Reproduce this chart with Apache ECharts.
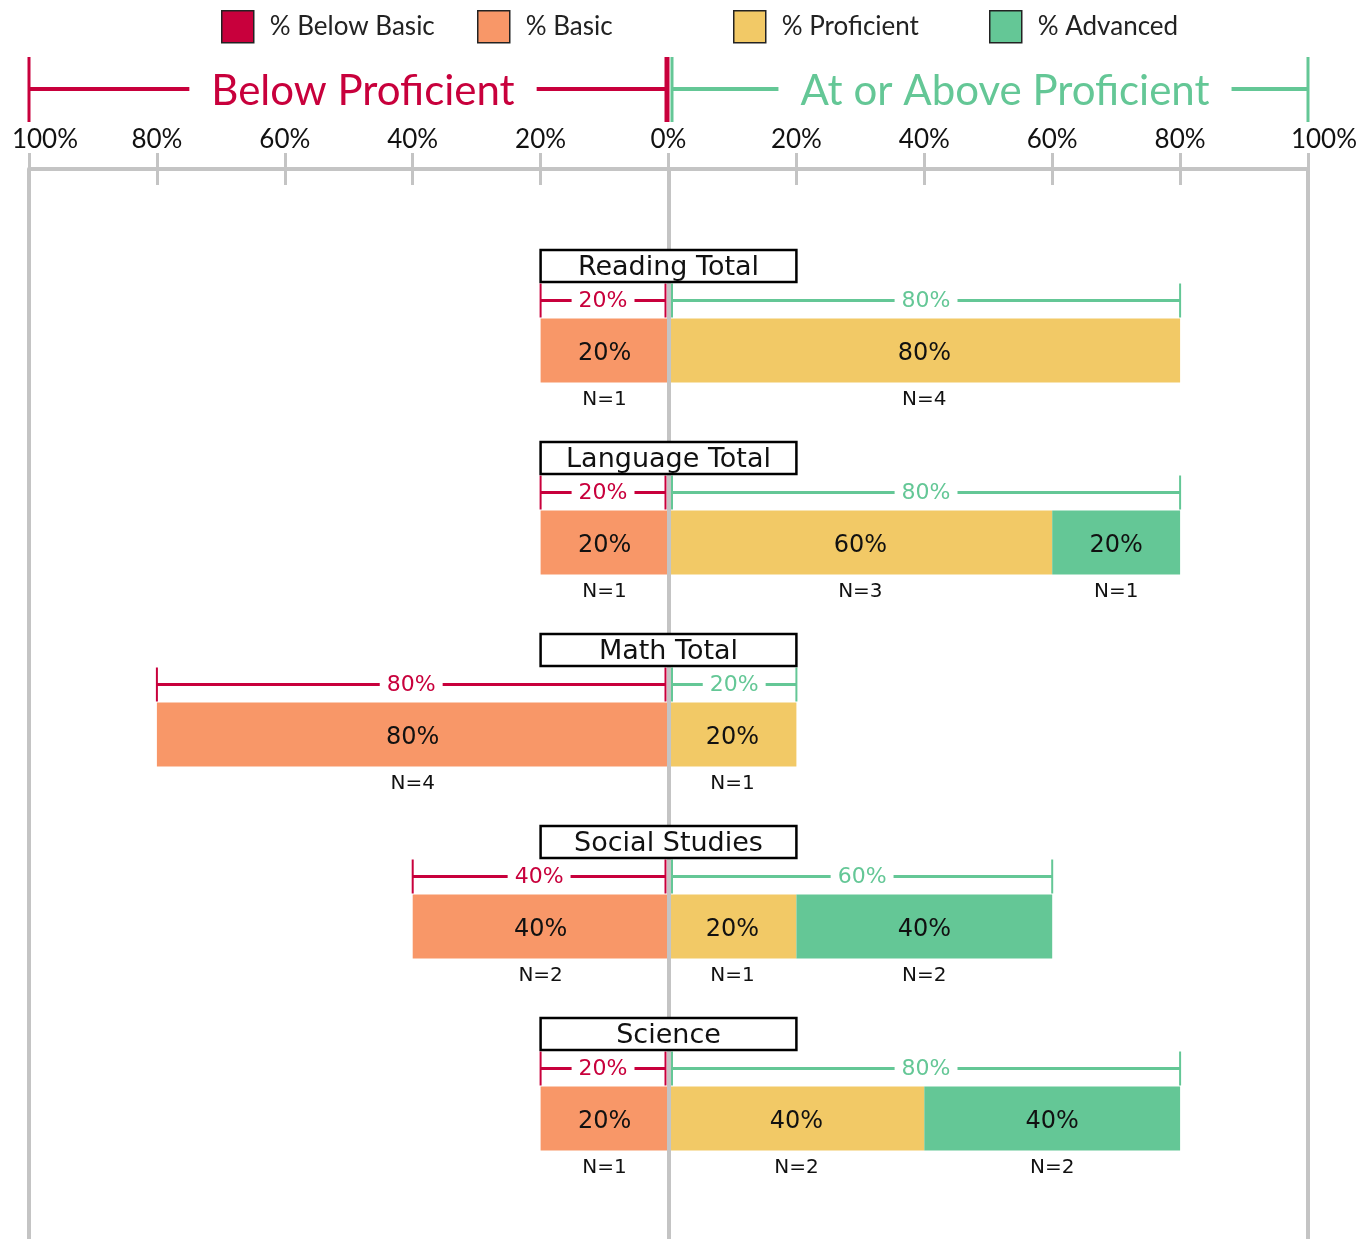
<!DOCTYPE html>
<html>
<head>
<meta charset="utf-8">
<script src="https://cdn.jsdelivr.net/npm/echarts@6/dist/echarts.min.js"></script>
<style>
  html, body { margin: 0; padding: 0; background: #ffffff; }
  #chart { width: 1371px; height: 1239px; }
</style>
</head>
<body>
<div id="chart"></div>
<script>
// ---- data ----
const subjects = ['Reading Total', 'Language Total', 'Math Total', 'Social Studies', 'Science'];
const levelNames = ['% Below Basic', '% Basic', '% Proficient', '% Advanced'];

const belowBasicPct = [0, 0, 0, 0, 0];
const basicPct      = [20, 20, 80, 40, 20];
const proficientPct = [80, 60, 20, 20, 40];
const advancedPct   = [0, 20, 0, 40, 40];

const belowBasicN = [0, 0, 0, 0, 0];
const basicN      = [1, 1, 4, 2, 1];
const proficientN = [4, 3, 1, 1, 2];
const advancedN   = [0, 1, 0, 2, 2];

const tickValues = [-100, -80, -60, -40, -20, 0, 20, 40, 60, 80, 100];
const tickLabels = ['100%', '80%', '60%', '40%', '20%', '0%', '20%', '40%', '60%', '80%', '100%'];

const headerSpans = [
  { from: -100, to: 0, text: 'Below Proficient' },
  { from: 0, to: 100, text: 'At or Above Proficient' }
];

// ---- styling ----
const RED = '#C8003C';
const ORANGE = '#F89768';
const YELLOW = '#F2C966';
const GREEN = '#64C796';
const GRID_GREY = '#C4C4C4';
const INK = '#111111';
const FONT = 'Lato, "Noto Sans", sans-serif';
const WIDE_FONT = '"DejaVu Sans", Verdana, sans-serif';
const levelColors = [RED, ORANGE, YELLOW, GREEN];

// row axis: one unit per subject, rows centred on integers
const ROW_MIN = -0.9453;
const ROW_MAX = 4.6276;

// stacked segments: negative side grows left from 0, positive side grows right
function segmentData(values, counts, inner, sign) {
  return values.map((v, i) => {
    const start = sign * inner[i];
    const end = sign * (inner[i] + v);
    return [i, start, end, v, counts[i]];
  });
}
const zeros = subjects.map(() => 0);
const segmentSets = [
  segmentData(belowBasicPct, belowBasicN, basicPct, -1),
  segmentData(basicPct, basicN, zeros, -1),
  segmentData(proficientPct, proficientN, zeros, 1),
  segmentData(advancedPct, advancedN, proficientPct, 1)
];

function makeSegmentRenderer(color) {
  return function (params, api) {
    const row = api.value(0);
    const a = api.value(1);
    const b = api.value(2);
    const pct = api.value(3);
    const n = api.value(4);
    if (!pct) return null;
    const p0 = api.coord([a, row]);
    const p1 = api.coord([b, row]);
    const band = api.size([0, 1])[1];
    const h = band / 3;
    const x = Math.min(p0[0], p1[0]);
    const w = Math.abs(p1[0] - p0[0]);
    const cy = p0[1];
    return {
      type: 'group',
      children: [
        { type: 'rect', shape: { x: x, y: cy - h / 2, width: w, height: h }, style: { fill: color } },
        { type: 'text', style: { text: pct + '%', x: x + w / 2, y: cy + 3, align: 'center', verticalAlign: 'middle',
            fill: INK, font: '24px ' + WIDE_FONT } },
        { type: 'text', style: { text: 'N=' + n, x: x + w / 2, y: cy + h / 2 + 17, align: 'center', verticalAlign: 'middle',
            fill: INK, font: '20px ' + WIDE_FONT } }
      ]
    };
  };
}

const segmentSeries = levelNames.map((name, k) => ({
  type: 'custom',
  name: name,
  xAxisIndex: 0,
  yAxisIndex: 0,
  z: 2,
  itemStyle: { color: levelColors[k] },
  renderItem: makeSegmentRenderer(levelColors[k]),
  encode: { x: [1, 2], y: 0 },
  data: segmentSets[k]
}));

// brackets above each bar: totals below / at-or-above proficient
const bracketData = subjects.map((s, i) => [i, belowBasicPct[i] + basicPct[i], proficientPct[i] + advancedPct[i]]);

function bracket(children, xa, xb, y, color, label) {
  children.push({ type: 'line', shape: { x1: xa, y1: y, x2: xb, y2: y }, style: { stroke: color, lineWidth: 3 } });
  children.push({ type: 'line', shape: { x1: xa, y1: y - 17, x2: xa, y2: y + 17 }, style: { stroke: color, lineWidth: 2 } });
  children.push({ type: 'line', shape: { x1: xb, y1: y - 17, x2: xb, y2: y + 17 }, style: { stroke: color, lineWidth: 2 } });
  children.push({ type: 'text', style: { text: label, x: (xa + xb) / 2, y: y + 1, align: 'center', verticalAlign: 'middle',
      fill: color, font: '22px ' + WIDE_FONT, backgroundColor: '#ffffff', padding: [2, 7] } });
}

const bracketSeries = {
  type: 'custom',
  name: 'brackets',
  z: 2,
  silent: true,
  renderItem: function (params, api) {
    const row = api.value(0);
    const below = api.value(1);
    const above = api.value(2);
    const zero = api.coord([0, row]);
    const band = api.size([0, 1])[1];
    const y = zero[1] - band * 50 / 192;
    const children = [];
    if (below > 0) {
      const xl = api.coord([-below, row])[0];
      bracket(children, xl, zero[0] - 3, y, RED, below + '%');
    }
    if (above > 0) {
      const xr = api.coord([above, row])[0];
      bracket(children, zero[0] + 3.5, xr, y, GREEN, above + '%');
    }
    return { type: 'group', children: children };
  },
  encode: { x: [1, 2], y: 0 },
  data: bracketData
};

// subject title boxes
const titleSeries = {
  type: 'custom',
  name: 'titles',
  z: 5,
  silent: true,
  renderItem: function (params, api) {
    const row = api.value(0);
    const c = api.coord([0, row]);
    const band = api.size([0, 1])[1];
    const cy = c[1] - band * 84.5 / 192;
    const halfW = api.size([20, 0])[0];
    return {
      type: 'group',
      children: [
        { type: 'rect', shape: { x: c[0] - halfW, y: cy - 16, width: halfW * 2, height: 32 },
          style: { fill: '#ffffff', stroke: '#000000', lineWidth: 2.5 } },
        { type: 'text', style: { text: subjects[row], x: c[0], y: cy + 2, align: 'center', verticalAlign: 'middle',
            fill: INK, font: '27px ' + WIDE_FONT } }
      ]
    };
  },
  encode: { x: 1, y: 0 },
  data: subjects.map((s, i) => [i, 0])
};

// header brackets over each half of the scale
const headerSeries = {
  type: 'custom',
  name: 'header',
  z: 5,
  silent: true,
  clip: false,
  renderItem: function (params, api) {
    const span = headerSpans[params.dataIndex];
    const a = api.coord([span.from, ROW_MIN]);
    const b = api.coord([span.to, ROW_MIN]);
    const top = a[1];
    const y = top - 80;
    const isLeft = span.to <= 0;
    const color = isLeft ? RED : GREEN;
    const xa = isLeft ? a[0] : a[0] + 3.5;
    const xb = isLeft ? b[0] - 1.5 : b[0];
    const children = [
      { type: 'line', shape: { x1: xa, y1: y, x2: xb, y2: y }, style: { stroke: color, lineWidth: 4 } },
      { type: 'line', shape: { x1: xa, y1: top - 112, x2: xa, y2: top - 47 },
        style: { stroke: color, lineWidth: 3 } },
      { type: 'line', shape: { x1: xb, y1: top - 112, x2: xb, y2: top - 47 },
        style: { stroke: color, lineWidth: isLeft ? 5 : 3 } },
      { type: 'text', style: { text: span.text, x: (xa + xb) / 2 + 15, y: y + 2, align: 'center', verticalAlign: 'middle',
          fill: color, font: '42px ' + FONT, backgroundColor: '#ffffff', padding: [0, 22] } }
    ];
    return { type: 'group', children: children };
  },
  encode: { x: [0, 1] },
  data: headerSpans.map(s => [s.from, s.to])
};

function tickLabel(v) {
  const idx = tickValues.indexOf(Math.round(v));
  if (idx < 0) return '';
  const t = tickLabels[idx];
  return Math.abs(v) === 100 ? '{edge|' + t + '}' : t;
}

// one legend block per level, evenly spaced
const legends = levelNames.map((name, k) => ({
  data: [name],
  left: 221 + 256 * k,
  top: 10,
  padding: 0,
  icon: 'rect',
  itemWidth: 32,
  itemHeight: 32,
  selectedMode: false,
  itemStyle: { borderColor: '#222222', borderWidth: 1.5 },
  textStyle: { fontFamily: FONT, fontSize: 26, color: '#222222', padding: [0, 0, 0, 11] }
}));

const baseAxis = { type: 'value', position: 'top', min: -100, max: 100 };

const option = {
  animation: false,
  backgroundColor: '#ffffff',
  legend: legends,
  grid: { left: 29, right: 63, top: 169, bottom: 0, containLabel: false },
  xAxis: [
    Object.assign({}, baseAxis, {
      interval: 20,
      axisLine: { show: true, onZero: false, lineStyle: { color: GRID_GREY, width: 4 } },
      axisTick: { show: true, length: 16, lineStyle: { color: GRID_GREY, width: 3 } },
      axisLabel: {
        show: true, margin: 16, formatter: tickLabel,
        fontFamily: FONT, fontSize: 26, color: INK,
        rich: { edge: { fontFamily: FONT, fontSize: 26, color: INK, padding: [0, 0, 0, 32] } }
      },
      splitLine: { show: false }
    }),
    Object.assign({}, baseAxis, {
      interval: 20,
      axisLine: { show: false, onZero: false },
      axisTick: { show: true, inside: true, length: 16, lineStyle: { color: GRID_GREY, width: 3 } },
      axisLabel: { show: false },
      splitLine: { show: false }
    }),
    Object.assign({}, baseAxis, {
      interval: 100, z: 3,
      axisLine: { show: false, onZero: false },
      axisTick: { show: false },
      axisLabel: { show: false },
      splitLine: { show: true, lineStyle: { color: GRID_GREY, width: 4 } }
    })
  ],
  yAxis: {
    type: 'value', inverse: true, min: ROW_MIN, max: ROW_MAX,
    show: false, splitLine: { show: false }
  },
  series: segmentSeries.concat([bracketSeries, titleSeries, headerSeries])
};

const chart = echarts.init(document.getElementById('chart'), null, { renderer: 'canvas' });
chart.setOption(option);
</script>
</body>
</html>
